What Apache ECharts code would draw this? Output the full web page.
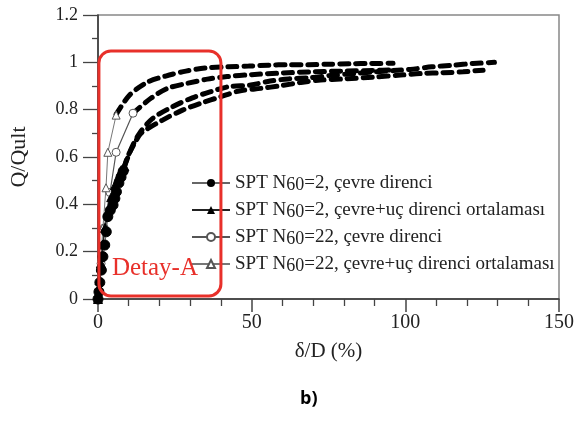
<!DOCTYPE html>
<html>
<head>
<meta charset="utf-8">
<script src="https://cdn.jsdelivr.net/npm/echarts@6/dist/echarts.min.js"></script>
<style>
html,body{margin:0;padding:0;background:#fff;}
#c{width:577px;height:421px;}
</style>
</head>
<body>
<div id="c"></div>
<script>
// ---- data (x = δ/D %, y = Q/Qult) ----
const seriesNames = [
  'SPT N60=2, çevre direnci',
  'SPT N60=2, çevre+uç direnci ortalaması',
  'SPT N60=22, çevre direnci',
  'SPT N60=22, çevre+uç direnci ortalaması'
];
const n2Cevre = [[0,0],[0.3,0.03],[0.6,0.07],[1.1,0.122],[1.6,0.179],[2.2,0.228],[2.7,0.284],[3.2,0.348],[4.0,0.375],[4.9,0.397],[5.5,0.425],[6.0,0.453],[6.8,0.49],[7.5,0.515],[8.2,0.54]];
const n2Ort = [[0,0],[0.5,0.08],[1.0,0.15],[1.6,0.23],[2.3,0.3],[3.2,0.37],[4.3,0.43],[5.5,0.48],[6.8,0.52],[7.6,0.545],[8.6,0.56]];
const n22Cevre = [[0,0],[1.0,0.15],[2.0,0.3],[3.9,0.45],[5.9,0.62],[11.4,0.785]];
const n22Ort = [[0,0],[0.8,0.15],[1.6,0.3],[2.6,0.47],[3.2,0.62],[5.9,0.777]];
// extended (dashed) curves
const ext1 = [[5.9,0.78],[10.3,0.862],[16.2,0.917],[22,0.942],[28.6,0.963],[35,0.976],[42.5,0.981],[49,0.984],[55.5,0.988],[62,0.99],[68.5,0.99],[75,0.992],[82,0.994],[89,0.995],[96,0.996]];
const ext2 = [[11.4,0.785],[17.2,0.848],[22.6,0.89],[29,0.911],[35.6,0.929],[42,0.94],[50,0.948],[60,0.955],[70,0.96],[80,0.963],[90,0.966],[96,0.968]];
const ext3 = [[8.6,0.56],[11,0.64],[13.5,0.70],[17.8,0.763],[24.2,0.812],[30.7,0.85],[36.7,0.876],[42.5,0.897],[49.7,0.904],[56,0.921],[62,0.93],[69,0.935],[76,0.945],[83,0.952],[90,0.96],[96,0.965],[101.6,0.97],[108.6,0.981],[115.6,0.988],[122,0.995],[129,1.0]];
const ext4 = [[8.4,0.55],[9.6,0.60],[12,0.66],[14,0.70],[21,0.756],[27.5,0.798],[33.4,0.827],[40,0.855],[45.9,0.879],[53,0.89],[59.4,0.901],[66,0.915],[72.4,0.925],[80,0.93],[90,0.938],[98.4,0.946],[105.4,0.953],[112.3,0.956],[118.8,0.96],[125.3,0.967]];
const xTicks = [0,50,100,150];
const yTicks = [0,0.2,0.4,0.6,0.8,1,1.2];
const detailBox = {x0:0.3, x1:40, y0:0.013, y1:1.048};

const serif = '"Liberation Serif", "DejaVu Serif", serif';
const chart = echarts.init(document.getElementById('c'), null, {renderer:'canvas'});

const dashStyle = {color:'#000', width:5, type:[9,7], cap:'round'};
function dashSeries(d){
  return {type:'line', data:d, showSymbol:false, symbol:'none', smooth:0.3,
    lineStyle:dashStyle, silent:true, z:2, legendHoverLink:false};
}

chart.setOption({
  animation:false,
  grid:{left:97, right:18, top:15, bottom:122, show:true, borderColor:'#888', borderWidth:1.5},
  xAxis:{type:'value', min:xTicks[0], max:xTicks[xTicks.length-1], interval:50,
    name:'δ/D (%)', nameLocation:'middle', nameGap:42,
    nameTextStyle:{fontFamily:serif, fontSize:21, color:'#222'},
    axisLine:{show:true, lineStyle:{color:'#333', width:1.5}},
    axisTick:{show:true, length:13, lineStyle:{color:'#444', width:1.5}},
    minorTick:{show:true, splitNumber:5, length:7, lineStyle:{color:'#444', width:1.3}},
    axisLabel:{fontFamily:serif, fontSize:20, color:'#222', margin:14},
    splitLine:{show:false}},
  yAxis:{type:'value', min:yTicks[0], max:yTicks[yTicks.length-1], interval:0.2,
    name:'Q/Qult', nameLocation:'middle', nameGap:68,
    nameTextStyle:{fontFamily:serif, fontSize:22, color:'#222'},
    axisLine:{show:true, lineStyle:{color:'#333', width:1.5}},
    axisTick:{show:true, length:15, lineStyle:{color:'#444', width:1.3}},
    minorTick:{show:true, splitNumber:2, length:6, lineStyle:{color:'#444', width:1.3}},
    axisLabel:{fontFamily:serif, fontSize:18, color:'#222', margin:20,
      formatter:v=>String(Math.round(v*10)/10)},
    splitLine:{show:false}},
  legend:{orient:'vertical', left:186, top:167, itemWidth:38, itemHeight:10, itemGap:5,
    data:seriesNames,
    formatter:n=>n.replace('N60','N{s|60}'),
    textStyle:{fontFamily:serif, fontSize:19, color:'#222', lineHeight:19,
      rich:{s:{fontFamily:serif, fontSize:18, color:'#222', padding:[4,0,0,0], lineHeight:19}}}},
  series:[
    dashSeries(ext1), dashSeries(ext2), dashSeries(ext3), dashSeries(ext4),
    {name:seriesNames[0], type:'line', data:n2Cevre, symbol:'circle', symbolSize:10,
      itemStyle:{color:'#000', borderColor:'#000'}, lineStyle:{color:'#666', width:1}, z:5},
    {name:seriesNames[1], type:'line', data:n2Ort, symbol:'triangle', symbolSize:9,
      itemStyle:{color:'#000', borderColor:'#000'}, lineStyle:{color:'#222', width:1.5}, z:5},
    {name:seriesNames[2], type:'line', data:n22Cevre, symbol:'circle', symbolSize:8,
      itemStyle:{color:'#fff', borderColor:'#555', borderWidth:1}, lineStyle:{color:'#555', width:1.2}, z:4},
    {name:seriesNames[3], type:'line', data:n22Ort, symbol:'triangle', symbolSize:8,
      itemStyle:{color:'#fff', borderColor:'#555', borderWidth:1}, lineStyle:{color:'#777', width:1}, z:4}
  ]
});

const p0 = chart.convertToPixel({gridIndex:0}, [detailBox.x0, detailBox.y1]);
const p1 = chart.convertToPixel({gridIndex:0}, [detailBox.x1, detailBox.y0]);
chart.setOption({graphic:[
  {type:'rect', shape:{x:p0[0], y:p0[1], width:p1[0]-p0[0], height:p1[1]-p0[1], r:12},
    style:{fill:'none', stroke:'#e8302a', lineWidth:3}, z:10},
  {type:'text', left:p0[0]+13, top:p1[1]-40,
    style:{text:'Detay-A', fill:'#e8302a', font:'25px '+serif}, z:10},
  {type:'text', left:300, top:390,
    style:{text:'b)', fill:'#000', font:'bold 18px "Open Sans", "DejaVu Sans", sans-serif'}, z:10}
]});
</script>
</body>
</html>
